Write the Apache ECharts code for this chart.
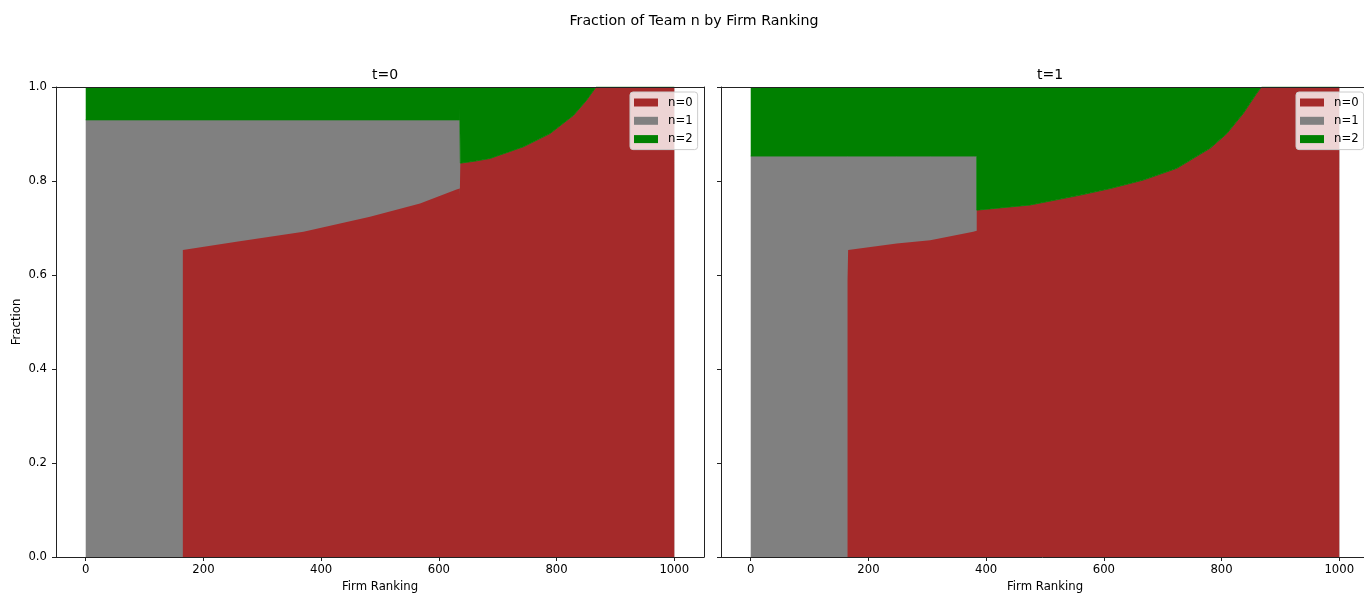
<!DOCTYPE html>
<html>
<head>
<meta charset="utf-8">
<script src="https://cdn.jsdelivr.net/npm/echarts@6/dist/echarts.min.js"></script>
<style>
html,body{margin:0;padding:0;background:#fff;}
#chart{width:1364px;height:595px;}
</style>
</head>
<body>
<div id="chart"></div>
<script>
// ---- data (firm ranking breakpoints and fractions) ----
const categories = ['n=0', 'n=1', 'n=2'];
const xTicks = [0, 200, 400, 600, 800, 1000];
const yTicks = [0, 0.2, 0.4, 0.6, 0.8, 1.0];

// t=0 panel
const t0Rank = [0, 165, 165, 256, 370, 483, 568, 630, 635.5, 635.5, 636.5, 636.5, 660, 687, 744, 789, 829, 851, 867, 1000];
const t0N0   = [0, 0, 0.653, 0.671, 0.692, 0.724, 0.752, 0.782, 0.784, 0.767, 0.767, 0.838, 0.842, 0.848, 0.873, 0.901, 0.940, 0.972, 1.0, 1.0];
const t0N1   = [0.930, 0.930, 0.277, 0.259, 0.238, 0.206, 0.178, 0.148, 0.146, 0.191, 0.191, 0, 0, 0, 0, 0, 0, 0, 0, 0];
const t0N2   = [0.070, 0.070, 0.070, 0.070, 0.070, 0.070, 0.070, 0.070, 0.070, 0.042, 0.042, 0.162, 0.158, 0.152, 0.127, 0.099, 0.060, 0.028, 0, 0];

// t=1 panel
const t1Rank = [0, 164.5, 164.5, 165.5, 165.5, 248, 305, 378, 384, 384, 475, 560, 611, 667, 724, 781, 809, 837, 860, 868, 1000];
const t1N0   = [0, 0, 0.589, 0.589, 0.653, 0.667, 0.674, 0.692, 0.694, 0.738, 0.749, 0.770, 0.784, 0.802, 0.827, 0.870, 0.901, 0.944, 0.987, 1.0, 1.0];
const t1N1   = [0.853, 0.853, 0.264, 0.264, 0.200, 0.186, 0.179, 0.161, 0.159, 0, 0, 0, 0, 0, 0, 0, 0, 0, 0, 0, 0];
const t1N2   = [0.147, 0.147, 0.147, 0.147, 0.147, 0.147, 0.147, 0.147, 0.147, 0.262, 0.251, 0.230, 0.216, 0.198, 0.173, 0.130, 0.099, 0.056, 0.013, 0, 0];

const colors = ['#a52a2a', '#808080', '#008000'];

// ---- build options ----
const FONT = 'DejaVu Sans';
const FS = 11.7;

function areaSeries(name, color, data, axisIdx, origin, lineW) {
  return {
    name: name, type: 'line', xAxisIndex: axisIdx, yAxisIndex: axisIdx,
    data: data, showSymbol: false, symbol: 'none', silent: true, animation: false,
    lineStyle: lineW ? { width: lineW, color: color } : { width: 0, opacity: 0 },
    areaStyle: { color: color, opacity: 1, origin: origin },
    itemStyle: { color: color }
  };
}

// n=1 band drawn as the area under n0+n1, n=0 drawn over it (area under n0),
// n=2 drawn as the band between (1 - n2) and the top of the fraction axis (1).
function panelSeries(rank, n0, n1, n2, axisIdx) {
  return [
    areaSeries(categories[1], colors[1], rank.map((r, i) => [r, n0[i] + n1[i]]), axisIdx, 'start', 0),
    areaSeries(categories[0], colors[0], rank.map((r, i) => [r, n0[i]]), axisIdx, 'start', 0),
    areaSeries(categories[2], colors[2], rank.map((r, i) => [r, 1 - n2[i]]), axisIdx, 'end', 0.8)
  ];
}

const axisLineStyle = { color: '#222', width: 1 };

function bottomX(grid) {
  return {
    type: 'value', gridIndex: grid, min: -50.5, max: 1050.5, z: 10,
    position: 'bottom',
    name: 'Firm Ranking', nameLocation: 'middle', nameGap: 23,
    nameTextStyle: { fontFamily: FONT, fontSize: FS, color: '#000' },
    axisLine: { show: true, onZero: false, lineStyle: axisLineStyle },
    axisTick: { show: true, length: 4, inside: false, customValues: xTicks, lineStyle: axisLineStyle },
    axisLabel: { show: true, margin: 7, customValues: xTicks, fontFamily: FONT, fontSize: FS, color: '#000',
      formatter: v => String(v) },
    splitLine: { show: false }
  };
}
function topX(grid) {
  return {
    type: 'value', gridIndex: grid, min: -50.5, max: 1050.5, z: 10, position: 'top',
    axisLine: { show: true, onZero: false, lineStyle: axisLineStyle },
    axisTick: { show: false }, axisLabel: { show: false }, splitLine: { show: false }
  };
}
function leftY(grid, labels) {
  return {
    type: 'value', gridIndex: grid, min: 0, max: 1, interval: 0.2, z: 10, position: 'left',
    name: labels ? 'Fraction' : '', nameLocation: 'middle', nameGap: 33, nameRotate: 90,
    nameTextStyle: { fontFamily: FONT, fontSize: FS, color: '#000' },
    axisLine: { show: true, onZero: false, lineStyle: axisLineStyle },
    axisTick: { show: true, length: 4, customValues: yTicks, lineStyle: axisLineStyle },
    axisLabel: { show: labels, margin: 9, customValues: yTicks, fontFamily: FONT, fontSize: FS, color: '#000',
      formatter: v => Number(v).toFixed(1) },
    splitLine: { show: false }
  };
}
function rightY(grid) {
  return {
    type: 'value', gridIndex: grid, min: 0, max: 1, interval: 0.2, z: 10, position: 'right',
    axisLine: { show: true, onZero: false, lineStyle: axisLineStyle },
    axisTick: { show: false }, axisLabel: { show: false }, splitLine: { show: false }
  };
}

function legendAt(left) {
  return {
    left: left, top: 92, orient: 'vertical',
    data: categories.slice(),
    icon: 'rect', itemWidth: 24, itemHeight: 8, itemGap: 5.3,
    padding: [4, 5, 4, 4],
    backgroundColor: 'rgba(255,255,255,0.8)',
    borderColor: '#cccccc', borderWidth: 1, borderRadius: 3,
    selectedMode: false, z: 20,
    textStyle: { fontFamily: FONT, fontSize: FS, color: '#000', lineHeight: 13, padding: [0, 0, 0, 5] }
  };
}

const titleStyle = { fontFamily: FONT, fontSize: 14, fontWeight: 'normal', color: '#000' };

const option = {
  animation: false,
  backgroundColor: '#fff',
  title: [
    { text: 'Fraction of Team n by Firm Ranking', left: 689, top: 9, textAlign: 'center',
      textStyle: Object.assign({}, titleStyle, { fontSize: 14.2 }) },
    { text: 't=0', left: 380, top: 63, textAlign: 'center', textStyle: titleStyle },
    { text: 't=1', left: 1045, top: 63, textAlign: 'center', textStyle: titleStyle }
  ],
  legend: [legendAt(630), legendAt(1296)],
  grid: [
    { left: 56, top: 87, width: 648, height: 470, containLabel: false, outerBoundsMode: 'none' },
    { left: 721, top: 87, width: 648, height: 470, containLabel: false, outerBoundsMode: 'none' }
  ],
  xAxis: [bottomX(0), topX(0), bottomX(1), topX(1)],
  yAxis: [leftY(0, true), rightY(0), leftY(1, false), rightY(1)],
  series: [
    ...panelSeries(t0Rank, t0N0, t0N1, t0N2, 0),
    ...panelSeries(t1Rank, t1N0, t1N1, t1N2, 2)
  ]
};

const chart = echarts.init(document.getElementById('chart'), null, { renderer: 'canvas' });
chart.setOption(option);
</script>
</body>
</html>
